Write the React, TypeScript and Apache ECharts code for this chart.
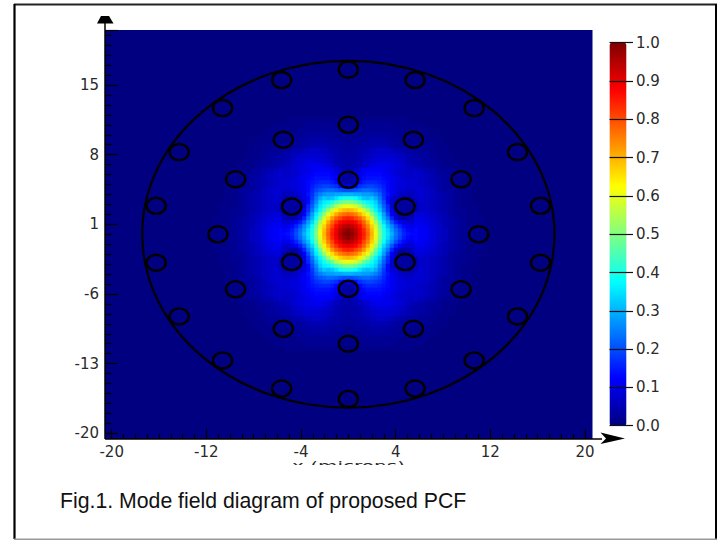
import React, { useEffect, useRef } from "react";
import * as echarts from "echarts";

// Halo around the core, percent. One quadrant, rows upward from the centre, columns outward.
const haloRows: number[][] = [
  [100,98,92,81,69,57,45,36,28,21,16,13,12,11,9,7,6,4,3,2,2,1,1,0,0],
  [98,97,91,80,68,56,44,35,27,20,15,13,12,11,9,7,6,4,3,2,2,1,1,0,0],
  [92,90,83,74,63,52,40,31,22,15,11,12,11,10,8,7,5,4,3,2,1,1,1,0,0],
  [81,79,74,66,56,46,35,26,16,9,7,10,10,9,8,6,5,4,3,2,1,1,1,0,0],
  [67,66,61,55,46,38,30,20,9,4,3,9,9,8,7,6,5,3,2,2,1,1,0,0,0],
  [55,54,50,44,38,31,23,12,4,3,3,4,7,7,6,5,4,3,2,2,1,1,0,0,0],
  [42,41,40,38,34,29,19,10,4,3,3,4,7,7,6,5,4,3,2,1,1,1,0,0,0],
  [32,32,31,30,27,24,15,9,5,3,3,6,8,7,6,5,4,3,2,1,1,0,0,0,0],
  [20,22,23,23,21,18,14,10,7,6,5,8,8,7,6,5,4,3,2,1,1,0,0,0,0],
  [8,10,15,17,17,15,13,11,9,8,8,8,8,7,6,4,3,3,2,1,1,0,0,0,0],
  [3,4,8,12,14,14,13,11,10,9,8,8,7,6,5,4,3,2,1,1,1,0,0,0,0],
  [2,3,6,10,13,13,12,11,10,9,8,8,7,6,5,4,3,2,1,1,0,0,0,0,0],
  [3,3,6,9,12,12,12,11,10,9,8,8,7,6,5,3,3,2,1,1,0,0,0,0,0],
  [4,5,6,9,11,11,11,11,10,9,8,8,6,5,4,3,2,2,1,1,0,0,0,0,0],
  [4,5,6,8,10,11,11,10,9,8,6,5,4,3,3,2,1,1,1,0,0,0,0,0,0],
  [4,4,5,7,8,9,9,9,8,7,5,4,4,3,2,2,1,1,0,0,0,0,0,0,0],
  [4,4,5,6,7,8,8,8,7,6,5,4,3,3,2,1,1,1,0,0,0,0,0,0,0],
  [3,4,4,5,6,7,7,6,5,4,3,3,2,2,2,1,1,0,0,0,0,0,0,0,0],
  [3,3,4,4,5,5,5,4,3,3,2,2,2,2,1,1,1,0,0,0,0,0,0,0,0],
  [2,3,3,3,4,4,4,3,3,2,1,1,1,1,1,1,0,0,0,0,0,0,0,0,0],
  [2,2,2,3,3,3,3,3,2,2,1,1,1,1,1,0,0,0,0,0,0,0,0,0,0],
  [1,1,2,2,2,2,2,2,2,1,1,1,1,1,0,0,0,0,0,0,0,0,0,0,0],
  [1,1,1,2,2,2,2,2,1,1,1,1,1,0,0,0,0,0,0,0,0,0,0,0,0],
  [0,1,1,1,1,1,1,1,1,1,1,0,0,0,0,0,0,0,0,0,0,0,0,0,0],
  [0,0,0,0,0,0,0,0,0,0,0,0,0,0,0,0,0,0,0,0,0,0,0,0,0],
];

// Core of the mode, percent, finer cells. One quadrant, rows upward from the centre, columns outward.
const coreRows: number[][] = [
  [100,99,95,90,85,78,70,61,50,40,35,30,24,20,16,14,13],
  [99,97,94,89,84,77,69,60,49,40,34,28,23,19,15,13,12],
  [95,94,91,87,81,75,67,58,47,38,31,26,20,16,13,11,10],
  [90,89,87,83,78,71,64,54,44,34,28,21,15,12,9,8,8],
  [85,84,81,78,73,66,58,48,38,30,24,16,9,5,4,5,6],
  [78,77,75,71,66,60,52,44,36,28,20,12,6,3,3,3,4],
  [70,69,67,64,58,52,45,37,32,24,17,10,5,3,3,3,3],
  [61,60,58,54,48,44,39,35,29,22,16,8,4,3,3,3,3],
  [50,49,47,44,40,37,36,33,26,20,13,8,5,3,3,3,3],
  [40,40,38,35,32,31,32,29,24,18,13,9,7,5,4,4,4],
  [30,30,29,29,28,28,27,25,22,17,14,11,9,7,6,6,6],
  [20,20,21,22,23,23,22,21,19,16,13,11,10,8,8,7,7],
  [9,10,14,17,18,19,19,18,17,15,13,11,10,9,9,8,8],
  [4,4,7,13,15,16,16,16,15,14,13,11,10,9,9,8,8],
  [3,3,6,11,13,14,14,14,14,13,12,11,10,9,8,8,7],
  [3,4,6,10,12,13,13,13,13,12,11,10,9,8,8,7,7],
  [4,5,7,9,11,12,12,12,12,11,10,10,9,8,7,7,6],
];

const jetColors = ["#000080","#0000ff","#0080ff","#00ffff","#80ff80","#ffff00","#ff8000","#ff0000","#800000"];

// Air holes, one quarter of the cross-section, microns (mirrored about both axes)
const holeXs = [4.79, 0, 9.53, 11.02, 5.5, 0, 0, 5.64, 10.63, 14.3, 16.24];
const holeYs = [2.79, 5.48, 5.53, 0, 9.5, 11.0, 16.55, 15.5, 12.68, 8.26, 2.86];
const holeRadius = 0.81;
const fibreRadius = 17.42;

const xTickLabels = { min: -20, max: 20, interval: 8 };
const yTickLabels = { min: -20, max: 20.53, interval: 7 };
const barTicks = { min: 0, max: 1, interval: 0.1 };
const xAxisTitle = "x (microns)";
const caption = "Fig.1. Mode field diagram of proposed PCF";

function mirrorCells(rows: number[][]) {
  const half = rows.length - 1;
  const cats: string[] = [];
  for (let i = -half; i <= half; i++) cats.push(String(i));
  const cells: number[][] = [];
  rows.forEach((row, yi) => {
    row.forEach((v, xi) => {
      for (const a of xi === 0 ? [half] : [half + xi, half - xi]) {
        for (const b of yi === 0 ? [half] : [half + yi, half - yi]) {
          cells.push([a, b, v / 100]);
        }
      }
    });
  });
  return { cats, cells };
}

function buildOutlines() {
  const out: number[][] = [[0, 0, fibreRadius, 2.2]];
  holeXs.forEach((x, i) => {
    const y = holeYs[i];
    for (const px of x === 0 ? [0] : [x, -x]) {
      for (const py of y === 0 ? [0] : [y, -y]) {
        out.push([px, py, holeRadius, 2.4]);
      }
    }
  });
  return out;
}

const axisFont = "DejaVu Sans";
const labelColor = "#2a2a2a";

export default function App() {
  const ref = useRef<HTMLDivElement>(null);
  useEffect(() => {
    document.body.style.margin = "0";
    document.body.style.background = "#fff";
    const chart = echarts.init(ref.current!, undefined, { renderer: "svg" });
    const halo = mirrorCells(haloRows);
    const core = mirrorCells(coreRows);
    const option: any = {
      animation: false,
      backgroundColor: "#fff",
      grid: [
        { left: 111.7, top: 30, width: 473.3, height: 403.3, show: false },
        { left: 200.2, top: 112.75, width: 296.5, height: 243.5, show: false },
        { left: 609.5, top: 42.7, width: 23.5, height: 383, show: false },
        { left: 282, top: 168, width: 132, height: 132, show: false },
      ],
      xAxis: [
        {
          type: "value", gridIndex: 0, ...xTickLabels, offset: 5.7, position: "bottom",
          axisLine: { show: false, onZero: false },
          axisTick: { show: true, inside: true, length: 10, lineStyle: { color: "#000", width: 1.2 } },
          minorTick: { show: true, splitNumber: 8, length: 5, lineStyle: { color: "#000", width: 1.2 } },
          splitLine: { show: false },
          axisLabel: { margin: 5, color: labelColor, fontFamily: axisFont, fontSize: 15 },
          z: 6,
        },
        { type: "category", gridIndex: 1, data: halo.cats, show: false },
        { type: "value", gridIndex: 2, min: 0, max: 1, show: false },
        { type: "category", gridIndex: 3, data: core.cats, show: false },
      ],
      yAxis: [
        {
          type: "value", gridIndex: 0, ...yTickLabels, offset: 6.7, position: "left",
          axisLine: { show: false, onZero: false },
          axisTick: { show: true, inside: true, length: 13, lineStyle: { color: "#000", width: 1.2 } },
          minorTick: { show: true, splitNumber: 7, length: 6.5, lineStyle: { color: "#000", width: 1.2 } },
          splitLine: { show: false },
          axisLabel: {
            margin: 6, color: labelColor, fontFamily: axisFont, fontSize: 15,
            formatter: (v: number) => (v > 20 ? "" : String(v)),
          },
          z: 6,
        },
        { type: "category", gridIndex: 1, data: halo.cats, show: false },
        {
          type: "value", gridIndex: 2, ...barTicks, position: "right",
          axisLine: { show: false, onZero: false },
          axisTick: { show: true, inside: true, length: 23.5, lineStyle: { color: "#111", width: 1.2 } },
          splitLine: { show: false },
          axisLabel: { margin: 3, color: labelColor, fontFamily: axisFont, fontSize: 15, formatter: (v: number) => v.toFixed(1) },
          z: 10,
        },
        { type: "category", gridIndex: 3, data: core.cats, show: false },
      ],
      visualMap: {
        type: "continuous", show: true, min: 0, max: 1, seriesIndex: [0, 1],
        left: 609.5, top: 42.7, itemWidth: 17, itemHeight: 383, padding: 0,
        calculable: false, showLabel: false,
        inRange: { color: jetColors },
        textStyle: { color: "transparent", fontSize: 1 },
        z: 4,
      },
      series: [
        {
          type: "heatmap", xAxisIndex: 1, yAxisIndex: 1, data: halo.cells, silent: true, z: 2, progressive: 0,
          emphasis: { disabled: true },
        },
        {
          type: "heatmap", xAxisIndex: 3, yAxisIndex: 3, data: core.cells, silent: true, z: 3, progressive: 0,
          emphasis: { disabled: true },
        },
        {
          type: "custom", xAxisIndex: 0, yAxisIndex: 0, coordinateSystem: "cartesian2d",
          data: buildOutlines(), silent: true, z: 5, clip: false,
          encode: { x: 0, y: 1 },
          renderItem: (_p: any, api: any) => {
            const x = api.value(0), y = api.value(1), r = api.value(2), w = api.value(3);
            const c = api.coord([x, y]);
            const e = api.coord([x + r, y + r]);
            return {
              type: "ellipse",
              shape: { cx: c[0], cy: c[1], rx: Math.abs(e[0] - c[0]), ry: Math.abs(e[1] - c[1]) },
              style: { fill: "none", stroke: "#000", lineWidth: w },
            };
          },
        },
      ],
      graphic: [
        { type: "rect", z: -1, silent: true, shape: { x: 105, y: 30, width: 487.5, height: 409 }, style: { fill: "#000080" } },
        { type: "line", z: 7, silent: true, shape: { x1: 105, y1: 23, x2: 105, y2: 439 }, style: { stroke: "#000", lineWidth: 1.5 } },
        { type: "line", z: 7, silent: true, shape: { x1: 105, y1: 439, x2: 602, y2: 439 }, style: { stroke: "#000", lineWidth: 1.5 } },
        { type: "polygon", z: 7, silent: true, shape: { points: [[97, 23.5], [101, 16], [109, 16], [113.5, 23.5]] }, style: { fill: "#000" } },
        { type: "polygon", z: 7, silent: true, shape: { points: [[600.5, 432.5], [625, 438.5], [600.5, 444], [606, 438.5]] }, style: { fill: "#000" } },
        { type: "text", z: 19, x: 348.5, y: 459.5, scaleY: 0.6, style: { text: xAxisTitle, fill: labelColor, fontFamily: axisFont, fontSize: 20, align: "center", verticalAlign: "top" } },
        { type: "rect", z: 20, silent: true, shape: { x: 200, y: 465, width: 300, height: 22 }, style: { fill: "#fff" } },
        { type: "text", z: 21, x: 60, y: 501, style: { text: caption, fill: "#111", fontFamily: "Liberation Sans", fontSize: 21.25, verticalAlign: "middle" } },
        { type: "line", z: 22, silent: true, shape: { x1: 14, y1: 4.5, x2: 717, y2: 4.5 }, style: { stroke: "#222", lineWidth: 2 } },
        { type: "line", z: 22, silent: true, shape: { x1: 14.5, y1: 4, x2: 14.5, y2: 539 }, style: { stroke: "#000", lineWidth: 2.2 } },
        { type: "line", z: 22, silent: true, shape: { x1: 716, y1: 4, x2: 716, y2: 539 }, style: { stroke: "#000", lineWidth: 2 } },
        { type: "line", z: 22, silent: true, shape: { x1: 14, y1: 539.2, x2: 717, y2: 539.2 }, style: { stroke: "#999", lineWidth: 1.5 } },
      ],
    };
    chart.setOption(option);
    return () => chart.dispose();
  }, []);
  return <div ref={ref} style={{ position: "absolute", left: 0, top: 0, width: 722, height: 540 }} />;
}
